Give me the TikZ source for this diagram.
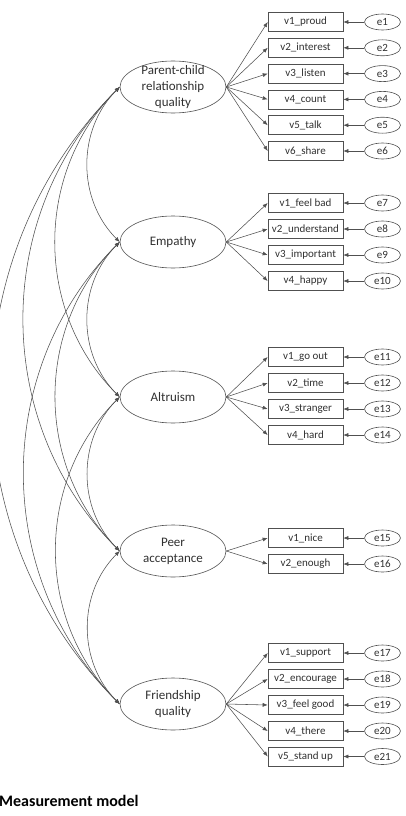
\documentclass[tikz,border=0pt]{standalone}
\usepackage{fontspec}
\setmainfont{Carlito}
\usetikzlibrary{shapes.geometric,arrows.meta}
\definecolor{ln}{HTML}{505050}
\definecolor{tx}{HTML}{303030}
\tikzset{
  latent/.style={ellipse,draw=ln,line width=0.6pt,minimum width=106pt,minimum height=52pt,inner sep=0pt},
  lattext/.style={align=center,text=tx,font=\fontsize{13}{16}\selectfont,inner sep=0pt},
  obs/.style={rectangle,draw=ln,line width=0.6pt,minimum width=75pt,minimum height=19pt,inner sep=0pt,text=tx,font=\fontsize{11}{13}\selectfont},
  err/.style={ellipse,draw=ln,line width=0.6pt,minimum width=36pt,minimum height=16pt,inner sep=0pt,text=tx,font=\fontsize{11}{13}\selectfont},
  arr/.style={draw=ln,line width=0.55pt,-{Latex[length=5pt,width=4pt]}},
  cov/.style={draw=ln,line width=0.55pt,{Latex[length=5pt,width=4pt]}-{Latex[length=5pt,width=4pt]},bend right=45},
  ttl/.style={anchor=base west,inner sep=0pt,text=black,font=\fontsize{16}{19}\selectfont\bfseries}
}
\begin{document}
\begin{tikzpicture}[x=1pt,y=-1pt]
\useasboundingbox (0,0) rectangle (405,816);
\clip (0,0) rectangle (405,816);
% latent variables
\node[latent] (pc) at (173,87) {};
\node[lattext] (pct) at (173,87) {Parent-child\\relationship\\quality};
\node[latent] (em) at (173,242) {};
\node[lattext] (emt) at (173,242) {Empathy};
\node[latent] (al) at (173,397) {};
\node[lattext] (alt) at (173,397) {Altruism};
\node[latent] (pa) at (173,551) {};
\node[lattext] (pat) at (173,551) {Peer\\acceptance};
\node[latent] (fq) at (173,704) {};
\node[lattext] (fqt) at (173,704) {Friendship\\quality};
% indicators and errors
\foreach \n/\y/\t/\e in {
  a1/22/v1\_proud/e1, a2/47.8/v2\_interest/e2, a3/73.6/v3\_listen/e3,
  a4/99.4/v4\_count/e4, a5/125.2/v5\_talk/e5, a6/151/v6\_share/e6,
  b1/203/v1\_feel bad/e7, b2/229/v2\_understand/e8, b3/255/v3\_important/e9, b4/281/v4\_happy/e10,
  c1/357/v1\_go out/e11, c2/383/v2\_time/e12, c3/409/v3\_stranger/e13, c4/435/v4\_hard/e14,
  d1/538/v1\_nice/e15, d2/564/v2\_enough/e16,
  f1/653/v1\_support/e17, f2/679/v2\_encourage/e18, f3/705/v3\_feel good/e19, f4/731/v4\_there/e20, f5/756.5/v5\_stand up/e21}{
  \node[obs] (\n) at (305.5,\y) {\t};
  \node[err] (e\n) at (382.5,\y) {\e};
  \draw[arr] (e\n.west) -- (\n.east);
}
% loadings
\foreach \n in {a1,a2,a3,a4,a5,a6} {\draw[arr] (pc.east) -- (\n.west);}
\foreach \n in {b1,b2,b3,b4} {\draw[arr] (em.east) -- (\n.west);}
\foreach \n in {c1,c2,c3,c4} {\draw[arr] (al.east) -- (\n.west);}
\foreach \n in {d1,d2} {\draw[arr] (pa.east) -- (\n.west);}
\foreach \n in {f1,f2,f3,f4,f5} {\draw[arr] (fq.east) -- (\n.west);}
% covariances
\draw[cov] (pc.west) to (em.west);
\draw[cov] (pc.west) to (al.west);
\draw[cov] (pc.west) to (pa.west);
\draw[cov] (pc.west) to (fq.west);
\draw[cov] (em.west) to (al.west);
\draw[cov] (em.west) to (pa.west);
\draw[cov] (em.west) to (fq.west);
\draw[cov] (al.west) to (pa.west);
\draw[cov] (al.west) to (fq.west);
\draw[cov] (pa.west) to (fq.west);
% title
\node[ttl] (title) at (-1,806) {Measurement model};
\end{tikzpicture}
\end{document}
